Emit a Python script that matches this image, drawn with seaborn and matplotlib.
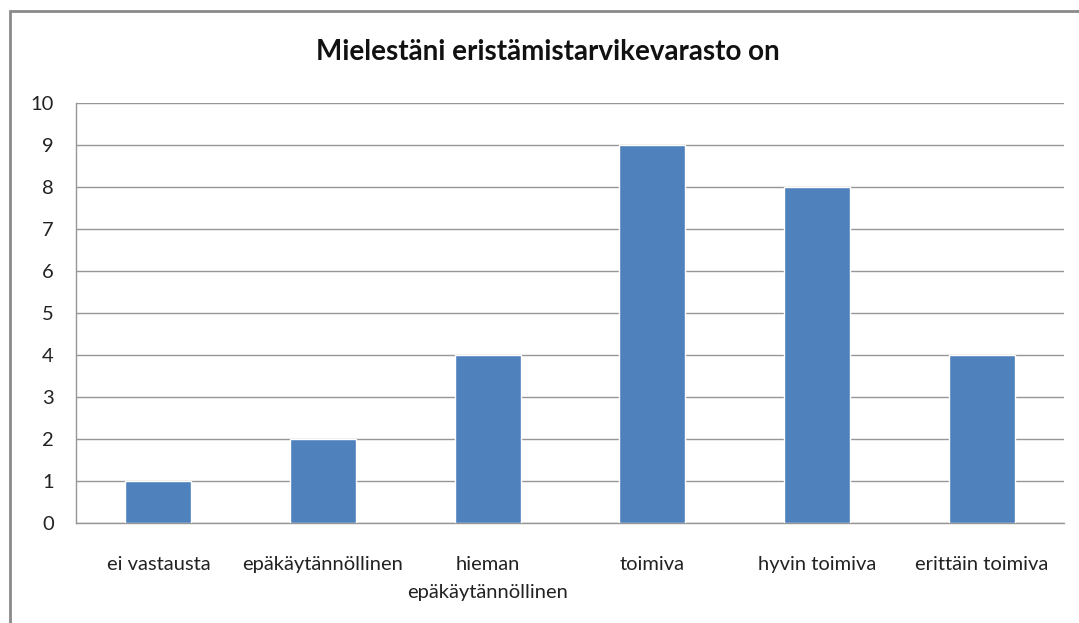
import numpy as np
import pandas as pd
import seaborn as sns
import matplotlib.pyplot as plt
from matplotlib.patches import Rectangle

# data
categories = ["ei vastausta", "epäkäytännöllinen", "hieman\nepäkäytännöllinen",
              "toimiva", "hyvin toimiva", "erittäin toimiva"]
counts = [1, 2, 4, 9, 8, 4]
y_ticks = list(range(0, 11))

df = pd.DataFrame({"category": categories, "count": counts})

sns.set_style("white")
plt.rcParams["font.family"] = ["Lato", "DejaVu Sans"]

fig = plt.figure(figsize=(10.79, 6.23), dpi=100)
ax = fig.add_axes([76 / 1079, 1 - 523 / 623, (1064 - 76) / 1079, (523 - 103) / 623])

sns.barplot(data=df, x="category", y="count", color="#4F81BD", width=0.4,
            saturation=1, ax=ax, zorder=3)

grid_col = "#969696"
ax.set_ylim(0, 10)
ax.set_xlim(-0.5, len(categories) - 0.5)
ax.set_yticks(y_ticks)
ax.yaxis.grid(True, color=grid_col, linewidth=1)
ax.set_axisbelow(True)

# category boundary ticks like Excel
ax.set_xticks(np.arange(-0.5, len(categories), 1.0), minor=True)
ax.tick_params(axis="x", which="major", length=0, pad=24, labelsize=14.5, colors="#222222")
ax.tick_params(axis="x", which="minor", length=6, width=1, color=grid_col, direction="out")
ax.tick_params(axis="y", length=6, width=1, color=grid_col, direction="out",
               labelsize=14.5, labelcolor="#222222", pad=10)
for lab in ax.get_xticklabels():
    lab.set_linespacing(1.75)
ax.set_xlabel("")
ax.set_ylabel("")

for side in ["top", "right"]:
    ax.spines[side].set_visible(False)
for side in ["left", "bottom"]:
    ax.spines[side].set_color(grid_col)
    ax.spines[side].set_linewidth(1)

fig.text(548 / 1079, 1 - 52 / 623, "Mielestäni eristämistarvikevarasto on",
         ha="center", va="center", fontsize=20, fontweight="bold", color="#111111")

# outer chart border
fig.patches.append(Rectangle((10 / 1079, -0.1), 1.2, 1 - 11 / 623 + 0.1,
                             transform=fig.transFigure, fill=False,
                             edgecolor="#8A8A8A", linewidth=2))

fig.savefig("out.png", dpi=100)
